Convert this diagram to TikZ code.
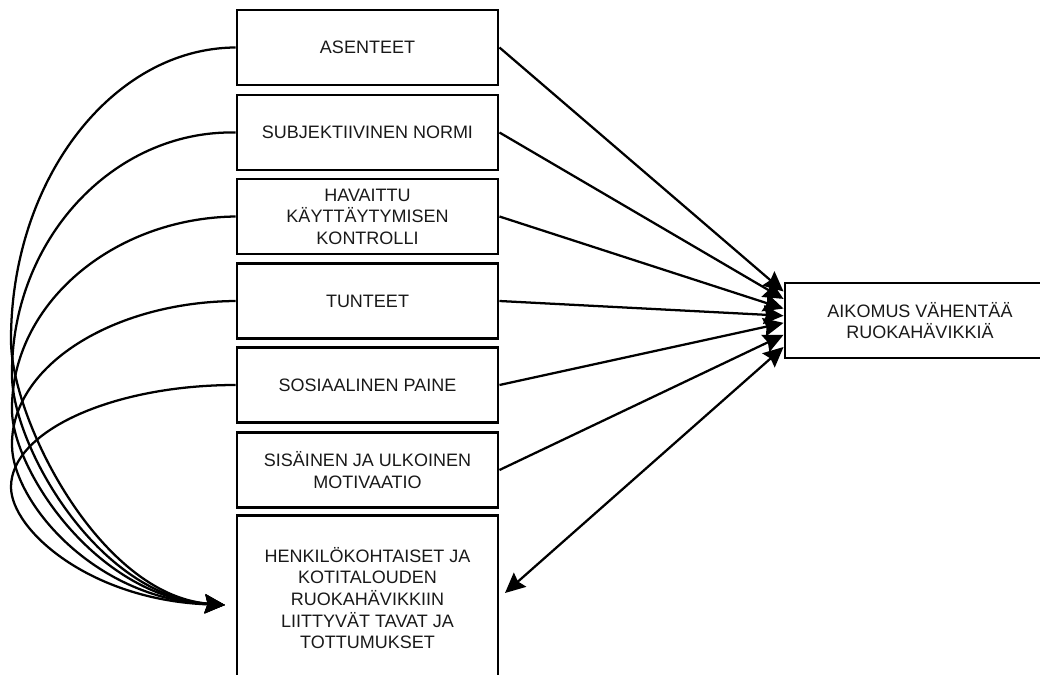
\documentclass[tikz,border=0pt]{standalone}
\usepackage{fontspec}
\setmainfont{Liberation Sans}
\usetikzlibrary{arrows.meta}

\begin{document}
\begin{tikzpicture}[x=0.75pt, y=-0.75pt,
    laatikko/.style={draw, line width=2.2pt, minimum width=195.75pt, minimum height=56.25pt,
        inner sep=0pt, align=center, text=black!90, font=\fontsize{13.5}{16.2}\selectfont},
    nuoli/.style={line width=1.7pt, -{Stealth[length=15pt, width=14pt, inset=2pt]}},
    kaksi/.style={line width=1.7pt, {Stealth[length=15pt, width=14pt, inset=2pt]}-{Stealth[length=15pt, width=14pt, inset=2pt]}},
    kaari/.style={line width=1.7pt, -{Stealth[length=15pt, width=14pt, inset=2pt]}}]
    \clip (0,0) rectangle (1040,675);

    % laatikot
    \node[laatikko] (asenteet) at (367.5, 47.5) {ASENTEET};
    \node[laatikko] (normi) at (367.5, 132.5) {SUBJEKTIIVINEN NORMI};
    \node[laatikko] (kontrolli) at (367.5, 216.5) {HAVAITTU\\KÄYTTÄYTYMISEN\\KONTROLLI};
    \node[laatikko] (tunteet) at (367.5, 301) {TUNTEET};
    \node[laatikko] (paine) at (367.5, 385) {SOSIAALINEN PAINE};
    \node[laatikko] (motivaatio) at (367.5, 470) {SISÄINEN JA ULKOINEN\\MOTIVAATIO};
    \node[laatikko, minimum height=123.75pt] (tavat) at (367.5, 598)
        {HENKILÖKOHTAISET JA\\KOTITALOUDEN\\RUOKAHÄVIKKIIN\\LIITTYVÄT TAVAT JA\\TOTTUMUKSET};
    \node[laatikko, minimum width=202.5pt] (aikomus) at (920, 320.5) {AIKOMUS VÄHENTÄÄ\\RUOKAHÄVIKKIÄ};

    % nuolet aikomukseen
    \draw[nuoli] (asenteet.east) -- (aikomus.168);
    \draw[nuoli] (normi.east) -- (aikomus.171.4);
    \draw[nuoli] (kontrolli.east) -- (aikomus.175.1);
    \draw[nuoli] (tunteet.east) -- (aikomus.178.1);
    \draw[nuoli] (paine.east) -- (aikomus.181.9);
    \draw[nuoli] (motivaatio.east) -- (aikomus.186.1);

    % kaksisuuntainen
    \coordinate (tapakarki) at (505, 593);
    \draw[kaksi] (aikomus.191.5) -- (tapakarki);

    % kaaret vasemmalla
    \coordinate (karki) at (225, 605);
    \draw[kaari] (asenteet.west) .. controls (113, 48) and (11, 179) .. (11, 340)
        .. controls (11, 420) and (100, 595) .. (karki);
    \draw[kaari] (normi.west) .. controls (113, 130) and (11, 240) .. (12, 375)
        .. controls (12, 445) and (97, 596) .. (karki);
    \draw[kaari] (kontrolli.west) .. controls (113, 218) and (11, 304) .. (12, 410)
        .. controls (12, 468) and (95, 597) .. (karki);
    \draw[kaari] (tunteet.west) .. controls (113, 302) and (11, 366) .. (12, 445)
        .. controls (12, 500) and (92, 598) .. (karki);
    \draw[kaari] (paine.west) .. controls (113, 385) and (11, 431) .. (11, 487)
        .. controls (11, 530) and (90, 600) .. (karki);

\end{tikzpicture}
\end{document}
